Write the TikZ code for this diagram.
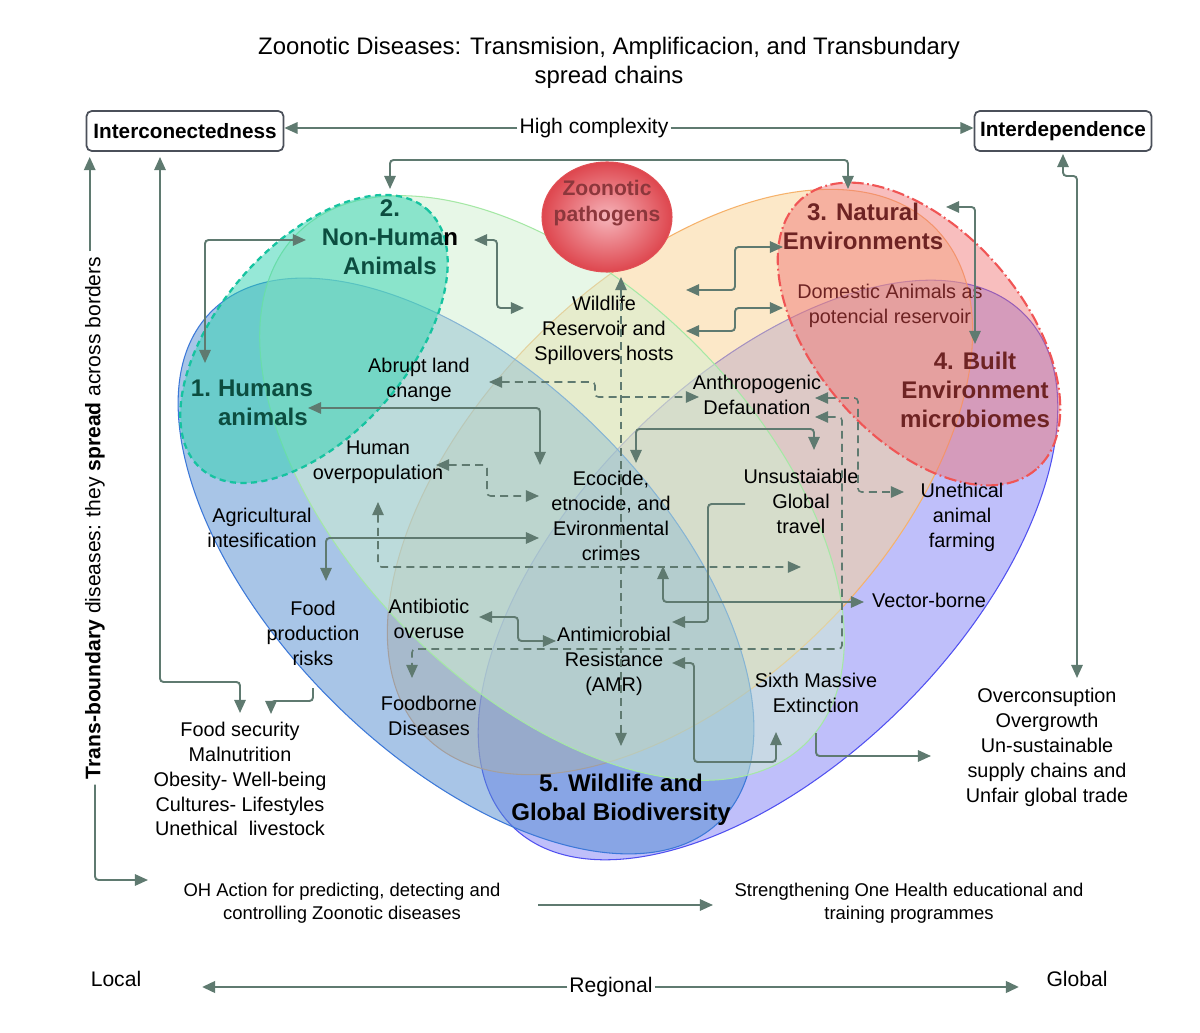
\documentclass[tikz,border=0pt]{standalone}
\usepackage{fontspec}
\setmainfont{Liberation Sans}
\usetikzlibrary{arrows.meta,shapes.geometric}
\definecolor{cA}{RGB}{83,141,209}
\definecolor{cAb}{RGB}{60,120,216}
\definecolor{cB}{RGB}{209,241,209}
\definecolor{cBb}{RGB}{165,232,165}
\definecolor{cC}{RGB}{251,211,147}
\definecolor{cCb}{RGB}{246,178,107}
\definecolor{cD}{RGB}{129,129,247}
\definecolor{cDb}{RGB}{80,80,240}
\definecolor{tealf}{RGB}{46,211,176}
\definecolor{tealb}{RGB}{22,195,160}
\definecolor{redf}{RGB}{240,112,112}
\definecolor{redb}{RGB}{240,85,85}
\definecolor{conn}{RGB}{95,122,112}
\definecolor{dteal}{RGB}{12,77,64}
\definecolor{maroonA}{RGB}{110,35,35}
\definecolor{zptext}{RGB}{140,55,60}
\definecolor{boxc}{RGB}{75,80,90}
\begin{document}
\begin{tikzpicture}[x=0.02cm,y=-0.02cm,
  >={Triangle[length=7.5pt,width=6.5pt]},
  txt/.style={font=\fontsize{11.3}{14.2}\selectfont, align=center, inner sep=0pt},
  lbl/.style={font=\bfseries\fontsize{13.7}{16.5}\selectfont, align=center, inner sep=0pt},
  smalltxt/.style={font=\fontsize{10.5}{13}\selectfont, align=center, inner sep=0pt},
  scaletxt/.style={font=\fontsize{12}{14}\selectfont, inner sep=1pt},
  boxed/.style={draw=boxc, line width=1pt, rounded corners=3pt, font=\bfseries\fontsize{11.8}{14}\selectfont, minimum height=0.8cm, inner sep=0pt},
  arr/.style={draw=conn, line width=1.1pt, rounded corners=2pt},
  darr/.style={arr, line width=0.9pt, dash pattern=on 4.5pt off 3pt},
  bigell/.style={fill opacity=0.5, line width=0.6pt}
]
\useasboundingbox (0,0) rectangle (1200,1033);
\fill[white] (0,0) rectangle (1200,1033);

% big ellipses
\filldraw[bigell, fill=cD, draw=cDb, rotate around={45:(768,570)}] (768,570) ellipse [x radius=362, y radius=192];
\filldraw[bigell, fill=cC, draw=cCb, rotate around={45:(680,482)}] (680,482) ellipse [x radius=360, y radius=204];
\filldraw[bigell, fill=cA, draw=cAb, rotate around={-45:(466,566)}] (466,566) ellipse [x radius=360, y radius=190];
\filldraw[bigell, fill=cB, draw=cBb, rotate around={-45:(552,488)}] (552,488) ellipse [x radius=360, y radius=203];

% teal blob
\filldraw[fill=tealf, fill opacity=0.5, draw=tealb, line width=1.3pt, dash pattern=on 3.5pt off 2.5pt, rotate around={49:(314,339)}] (314,339) ellipse [x radius=172, y radius=95];
% red blob
\filldraw[fill=redf, fill opacity=0.45, draw=redb, line width=1.2pt, dash pattern=on 7pt off 2pt on 1pt off 2pt, rotate around={-49:(919,334)}] (919,334) ellipse [x radius=179, y radius=104];

% pathogen sphere
\shade[inner color={rgb,255:red,246;green,180;blue,186}, outer color={rgb,255:red,222;green,70;blue,78}] (607,217) ellipse [x radius=65, y radius=55];
\draw[draw={rgb,255:red,225;green,80;blue,85}, line width=0.6pt] (607,217) ellipse [x radius=65, y radius=55];

% ---------- text nodes ----------
\node[font=\fontsize{13.6}{16.5}\selectfont, align=center, inner sep=0pt] (title) at (609,63) {Zoonotic Diseases: Transmision, Amplificacion, and Transbundary\\spread chains};
\node[boxed, minimum width=3.94cm] (ic) at (185,131) {Interconectedness};
\node[boxed, minimum width=3.54cm] (id) at (1063,131) {Interdependence};
\node[scaletxt] (hc) at (594,128) {High complexity};
\node[scaletxt, rotate=90, inner sep=3pt] (tb) at (95,518) {\textbf{Trans-boundary} diseases: they \textbf{spread} across borders};

\node[font=\bfseries\fontsize{12}{14.5}\selectfont, text=zptext, align=center, inner sep=0pt] (zp) at (607,203) {Zoonotic\\pathogens};
\node[lbl, text=dteal] (nh) at (390,237) {2.\\Non-Huma{\color{black}n}\\Animals};
\node[lbl, text=dteal] (hum) at (252,405) {\begin{tabular}{@{}l@{\hspace{4pt}}l@{}}1.&Humans\\&animals\end{tabular}};
\node[lbl, text=maroonA] (nat) at (863,226) {3. Natural\\Environments};
\node[lbl, text=maroonA] (built) at (975,390) {4. Built\\Environment\\microbiomes};
\node[lbl] (wl) at (621,800) {5. Wildlife and\\Global Biodiversity};

\node[txt] (wild) at (604,330) {Wildlife\\Reservoir and\\Spillovers hosts};
\node[txt] (abrupt) at (419,380) {Abrupt land\\cnange};
\node[txt] (hover) at (378,462) {Human\\overpopulation};
\node[txt] (agri) at (262,528) {Agricultural\\intesification};
\node[txt] (eco) at (611,516) {Ecocide,\\etnocide, and\\Evironmental\\crimes};
\node[txt] (anth) at (757,395) {Anthropogenic\\Defaunation};
\node[txt] (unsus) at (801,501) {Unsustaiable\\Global\\travel};
\node[txt] (uneth) at (962,517) {Unethical\\animal\\farming};
\node[txt] (vector) at (929,600) {Vector-borne};
\node[txt] (food) at (313,633) {Food\\production\\risks};
\node[txt] (antib) at (429,619) {Antibiotic\\overuse};
\node[txt] (amr) at (614,661) {Antimicrobial\\Resistance\\(AMR)};
\node[txt] (fborne) at (429,716) {Foodborne\\Diseases};
\node[txt] (sixth) at (816,693) {Sixth Massive\\Extinction};
\node[txt, text=maroonA] (dom) at (890,306) {Domestic Animals as\\potencial reservoir};
\node[txt] (fsec) at (240,779) {Food security\\Malnutrition\\Obesity- Well-being\\Cultures- Lifestyles\\Unethical\ \ livestock};
\node[txt] (overc) at (1047,747) {Overconsuption\\Overgrowth\\Un-sustainable\\supply chains and\\Unfair global trade};
\node[smalltxt] (oh) at (342,903) {OH Action for predicting, detecting and\\controlling Zoonotic diseases};
\node[smalltxt] (str) at (909,903) {Strengthening One Health educational and\\training programmes};
\node[scaletxt] (local) at (116,979) {Local};
\node[scaletxt] (global) at (1077,979) {Global};
\node[scaletxt] (rg) at (611,987) {Regional};

% ---------- connector end coordinates ----------
\coordinate (icb) at (160,157);
\coordinate (fsin) at (240,713);
\coordinate (fprout) at (313,688);
\coordinate (fsin2) at (271,714);
\coordinate (ohin) at (148,880);
\coordinate (t1) at (390,189);
\coordinate (t2) at (848,189);
\coordinate (r1) at (1063,154);
\coordinate (r2) at (1077,678);
\coordinate (h1a) at (205,363);
\coordinate (h1b) at (306,240);
\coordinate (n1a) at (474,240);
\coordinate (n1b) at (524,308);
\coordinate (e1a) at (783,247);
\coordinate (e1b) at (686,290);
\coordinate (d1a) at (783,308);
\coordinate (d1b) at (686,331);
\coordinate (b1a) at (946,207);
\coordinate (b1b) at (975,344);
\coordinate (z1a) at (621,277);
\coordinate (z1b) at (621,746);
\coordinate (hm1) at (308,408);
\coordinate (ec1) at (540,465);
\coordinate (ab1) at (489,382);
\coordinate (an1) at (699,397);
\coordinate (ho1) at (436,465);
\coordinate (ec2) at (539,496);
\coordinate (ag1) at (326,581);
\coordinate (ec3) at (539,538);
\coordinate (ho2) at (378,502);
\coordinate (gt1) at (801,567);
\coordinate (an2) at (815,398);
\coordinate (un1) at (904,492);
\coordinate (an3) at (815,417);
\coordinate (fb1) at (412,678);
\coordinate (ec4) at (636,463);
\coordinate (gt2) at (814,450);
\coordinate (gt3) at (745,504);
\coordinate (am1) at (672,622);
\coordinate (ec5) at (663,566);
\coordinate (vb1) at (864,602);
\coordinate (ao1) at (479,617);
\coordinate (am2) at (556,641);
\coordinate (am3) at (672,663);
\coordinate (sx1) at (776,732);
\coordinate (sx2) at (816,733);
\coordinate (ov1) at (931,756);
\coordinate (oh1) at (538,905);
\coordinate (st1) at (713,905);
\coordinate (lc1) at (202,987);
\coordinate (gl1) at (1019,987);

% ---------- connectors ----------
\draw[arr,->] (hc.west) -- (hc.west -| ic.east);
\draw[arr,->] (hc.east) -- (hc.east -| id.west);
\draw[arr,->] ([xshift=-3pt]tb.east) -- ([xshift=-3pt]tb.east |- icb);
\draw[arr,->] (tb.west) |- (ohin);
\draw[arr,<->] (icb) -- (160,682) -- (240,682) -- (fsin);
\draw[arr,->] (fprout) -- (313,701) -- (271,701) -- (fsin2);
\draw[arr,<->] (t1) -- (390,160) -- (848,160) -- (t2);
\draw[arr,<->] (r1) -- (1063,176) -- (1077,176) -- (r2);
\draw[arr,<->] (h1a) -- (205,240) -- (h1b);
\draw[arr,<->] (n1a) -- (497,240) -- (497,308) -- (n1b);
\draw[arr,<->] (e1a) -- (735,247) -- (735,290) -- (e1b);
\draw[arr,<->] (d1a) -- (735,308) -- (735,331) -- (d1b);
\draw[arr,<->] (b1a) -- (975,207) -- (b1b);
\draw[darr,<->] (z1a) -- (z1b);
\draw[arr,<->] (hm1) -- (540,408) -- (ec1);
\draw[darr,<->] (ab1) -- (595,382) -- (595,397) -- (an1);
\draw[darr,<->] (ho1) -- (487,465) -- (487,496) -- (ec2);
\draw[arr,<->] (ag1) -- (326,538) -- (ec3);
\draw[darr,<->] (ho2) -- (378,567) -- (gt1);
\draw[darr,<->] (an2) -- (858,398) -- (858,492) -- (un1);
\draw[darr,<->] (an3) -- (842,417) -- (842,649) -- (412,649) -- (fb1);
\draw[arr,<->] (ec4) -- (636,429) -- (814,429) -- (gt2);
\draw[arr,->] (gt3) -- (708,504) -- (708,622) -- (am1);
\draw[arr,<->] (ec5) -- (663,602) -- (vb1);
\draw[arr,<->] (ao1) -- (518,617) -- (518,641) -- (am2);
\draw[arr,<->] (am3) -- (694,663) -- (694,762) -- (776,762) -- (sx1);
\draw[arr,->] (sx2) -- (816,756) -- (ov1);
\draw[arr,->] (oh1) -- (st1);
\draw[arr,->,line width=1.6pt] (rg.west) -- (rg.west -| lc1);
\draw[arr,->,line width=1.6pt] (rg.east) -- (rg.east -| gl1);
\end{tikzpicture}
\end{document}
